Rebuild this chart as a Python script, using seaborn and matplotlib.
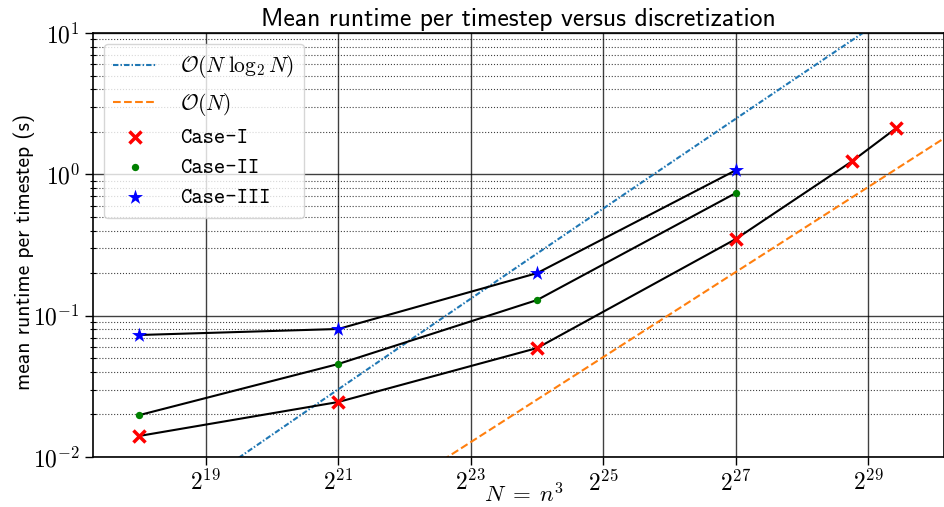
import numpy as np
import pandas as pd
import matplotlib
matplotlib.use("Agg")
import matplotlib.pyplot as plt
import seaborn as sns
from matplotlib.ticker import FuncFormatter, NullLocator, LogLocator

# grid resolution n, N = n^3
n_case1 = [64, 128, 256, 512, 768, 896]
t_case1 = [0.0141, 0.0245, 0.059, 0.349, 1.24, 2.13]
n_case2 = [64, 128, 256, 512]
t_case2 = [0.0198, 0.0455, 0.129, 0.738]
n_case3 = [64, 128, 256, 512]
t_case3 = [0.073, 0.0805, 0.200, 1.07]

# prefactors of the complexity guide lines
c_nlogn = 6.84e-10
c_n = 1.52e-9

xticks_pow = [19, 21, 23, 25, 27, 29]
xlim_pow = (17.30, 30.14)

plt.rcParams['mathtext.fontset'] = 'cm'

fig = plt.figure(figsize=(9.45, 5.07), dpi=100)
ax = fig.add_axes([0.0984, 0.0986, 0.9006, 0.8363])
ax.set_xscale('log', base=2)
ax.set_yscale('log')

# guide lines
N_ref = np.logspace(xlim_pow[0], xlim_pow[1] + 0.2, 200, base=2)
ref = pd.DataFrame({'N': N_ref,
                    'nlogn': c_nlogn * N_ref * np.log2(N_ref),
                    'n': c_n * N_ref})
sns.lineplot(data=ref, x='N', y='nlogn', ax=ax, color='C0', linestyle=(0, (2.6, 1.0, 0.7, 1.0)),
             linewidth=1.5, label=r'$\mathcal{O}(N\;\log_2 N)$', errorbar=None)
sns.lineplot(data=ref, x='N', y='n', ax=ax, color='C1', linestyle='--',
             linewidth=1.5, label=r'$\mathcal{O}(N)$', errorbar=None)

cases = [
    ('Case-I', n_case1, t_case1, 'x', 'red', 75),
    ('Case-II', n_case2, t_case2, 'o', 'green', 28),
    ('Case-III', n_case3, t_case3, '*', 'blue', 130),
]
for name, n, t, mk, col, s in cases:
    df = pd.DataFrame({'N': np.array(n, dtype=float) ** 3, 't': t})
    sns.lineplot(data=df, x='N', y='t', ax=ax, color='black', linewidth=1.5,
                 errorbar=None, legend=False, zorder=3)
for name, n, t, mk, col, s in cases:
    df = pd.DataFrame({'N': np.array(n, dtype=float) ** 3, 't': t})
    if mk == 'x':
        sns.scatterplot(data=df, x='N', y='t', ax=ax, marker=mk, color=col,
                        s=s, linewidth=2.5, label=name, zorder=4)
    else:
        sns.scatterplot(data=df, x='N', y='t', ax=ax, marker=mk, color=col,
                        s=s, linewidth=0, label=name, zorder=4)


def pow_label(base):
    def fmt(v, pos):
        k = int(round(np.log(v) / np.log(base)))
        return r'$%d^{%d}$' % (base, k)
    return FuncFormatter(fmt)


ax.set_xlim(2 ** xlim_pow[0], 2 ** xlim_pow[1])
ax.set_ylim(1e-2, 1e1)
ax.set_xticks([2.0 ** k for k in xticks_pow])
ax.xaxis.set_major_formatter(pow_label(2))
ax.xaxis.set_minor_locator(NullLocator())
ax.yaxis.set_major_locator(LogLocator(base=10))
ax.yaxis.set_minor_locator(LogLocator(base=10, subs=np.arange(2, 10)))
ax.yaxis.set_major_formatter(pow_label(10))
ax.tick_params(axis='both', which='major', labelsize=17, length=6, width=1)
ax.tick_params(axis='y', which='minor', length=4, width=0.8, direction='inout')

ax.grid(which='major', color='black', alpha=0.75, linewidth=1.0)
ax.grid(which='minor', axis='y', color='black', alpha=0.75, linestyle=':', linewidth=0.8)
ax.set_axisbelow(True)
for sp in ax.spines.values():
    sp.set_linewidth(1.2)

ax.set_title('Mean runtime per timestep versus discretization',
             family='cmss10', fontsize=18.5, pad=5)
ax.set_ylabel('mean runtime per timestep (s)', family='cmss10', fontsize=15.5)
ax.yaxis.set_label_coords(-0.068, 0.483)
ax.set_xlabel(r'$N\;=\;n^3$', fontsize=16.5)
ax.xaxis.set_label_coords(0.506, -0.062)
ax.xaxis.label.set_va('top')

handles, labels = ax.get_legend_handles_labels()
ax.legend(handles, labels, loc='upper left', prop={'family': 'cmtt10', 'size': 15.5},
          borderpad=0.45, labelspacing=0.47, handlelength=2.0, handletextpad=1.1)

fig.savefig('out.png', dpi=100)
